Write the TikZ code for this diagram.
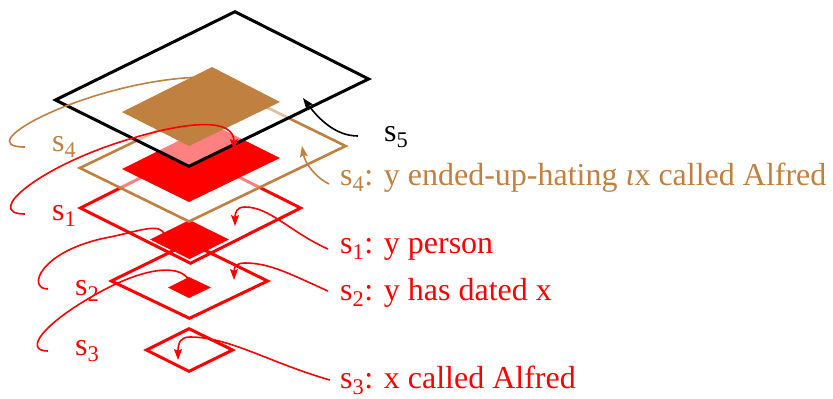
\documentclass[tikz,border=0pt]{standalone}
\usepackage{fontspec}
\setmainfont{Liberation Serif}
\usetikzlibrary{arrows.meta}
\begin{document}
\begin{tikzpicture}[x=1bp,y=-1bp,
  lbl/.style={inner sep=0pt, anchor=base west, font=\fontsize{32bp}{36bp}\selectfont},
  outl/.style={line width=3bp},
  broutl/.style={line width=2.6bp},
  veil/.style={fill=white, fill opacity=0.5},
  curve/.style={line width=1.6bp},
  conn/.style={line width=1.6bp, -{Stealth[length=11bp,width=8bp,inset=2bp]}},
]
\useasboundingbox (0,0) rectangle (833,398);
% ---- layers, bottom to top ----
% s3 outline
\draw[red,outl] (146.4,350) -- (189,328.7) -- (232.6,350) -- (189,371.3) -- cycle;
% s2 content and outline
\fill[red] (168,287.5) -- (189,277) -- (211,287.5) -- (189,298) -- cycle;
\draw[red,outl] (111.4,281) -- (189.5,242.7) -- (267.6,281) -- (189.5,318.3) -- cycle;
% s1 content and outline
\fill[red] (150,239.5) -- (189.5,220) -- (229,239.5) -- (189.5,259) -- cycle;
\draw[red,outl] (80.4,208) -- (190.5,152.7) -- (300.6,208) -- (190.5,263.3) -- cycle;
% s4 plane
\fill[veil] (79.9,168) -- (236.5,92.5) -- (345.6,146) -- (189,221.5) -- cycle;
\fill[red] (122,169) -- (212,124) -- (280,158) -- (189,202) -- cycle;
\draw[brown,broutl] (79.9,168) -- (236.5,92.5) -- (345.6,146) -- (189,221.5) -- cycle;
% s5 plane
\fill[veil] (55.4,100) -- (235,11.7) -- (368.6,79) -- (189,166.3) -- cycle;
\fill[brown] (122,112) -- (212,67) -- (280,102) -- (189,146) -- cycle;
\draw[black,outl] (55.4,100) -- (235,11.7) -- (368.6,79) -- (189,166.3) -- cycle;
% ---- labels ----
\node[lbl] (L5) at (384,141) {s\textsubscript{5}};
\node[lbl,brown] (L4) at (340,185) {s\textsubscript{4}: y ended-up-hating \textit{ι}x called Alfred};
\node[lbl,red] (L1) at (340,253) {s\textsubscript{1}: y person};
\node[lbl,red] (L2) at (340,300) {s\textsubscript{2}: y has dated x};
\node[lbl,red] (L3) at (340,388.5) {s\textsubscript{3}: x called Alfred};
\node[lbl,brown] (l4) at (52,151) {s\textsubscript{4}};
\node[lbl,red] (l1) at (52,220) {s\textsubscript{1}};
\node[lbl,red] (l2) at (75,295) {s\textsubscript{2}};
\node[lbl,red] (l3) at (75,355) {s\textsubscript{3}};
% ---- connector end points ----
\coordinate (e4) at (25,147);  \coordinate (t4) at (202,77);
\coordinate (e1) at (25,214);  \coordinate (m1) at (133,138); \coordinate (t1) at (234,150);
\coordinate (e2) at (48,289);  \coordinate (m2) at (110,237); \coordinate (t2) at (165,235);
\coordinate (e3) at (48,351);  \coordinate (m3) at (100,292); \coordinate (t3) at (189,280);
\coordinate (c5) at (358,136); \coordinate (r5) at (303,98);
\coordinate (c4) at (329,184); \coordinate (r4) at (302,146);
\coordinate (c1) at (328,249); \coordinate (k1) at (245,207); \coordinate (r1) at (235,226);
\coordinate (c2) at (328,291); \coordinate (k2) at (245,263); \coordinate (r2) at (234,280);
\coordinate (c3) at (330,380); \coordinate (k3) at (190,337); \coordinate (r3) at (178,360);
% ---- left connectors ----
\draw[brown,curve] (e4) .. controls (-35,147) and (90,80) .. (t4);
\draw[red,conn] (e1) .. controls (-18,214) and (40,165) .. (m1) .. controls (190,121) and (234,118) .. (t1);
\draw[red,curve] (e2) .. controls (26,289) and (40,250) .. (m2) .. controls (140,231) and (160,222) .. (t2);
\draw[red,curve] (e3) .. controls (24,351) and (40,325) .. (m3) .. controls (140,270) and (178,262) .. (t3);
% ---- right connectors ----
\draw[black,conn] (c5) .. controls (335,136) and (318,118) .. (r5);
\draw[brown,conn] (c4) .. controls (315,177) and (305,163) .. (r4);
\draw[red,conn] (c1) .. controls (290,232) and (270,207) .. (k1) .. controls (237,207) and (235,212) .. (r1);
\draw[red,conn] (c2) .. controls (290,274) and (270,263) .. (k2) .. controls (237,263) and (234,266) .. (r2);
\draw[red,conn] (c3) .. controls (270,363) and (230,337) .. (k3) .. controls (181,337) and (178,342) .. (r3);
\end{tikzpicture}
\end{document}
